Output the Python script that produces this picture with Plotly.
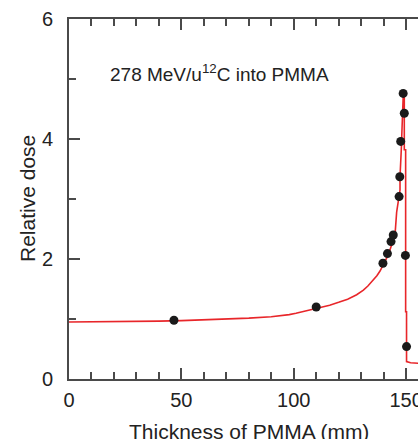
import plotly.graph_objects as go

# Calculated depth-dose curve (step-like near the Bragg peak)
curve_depth_mm = [0, 10, 20, 30, 40, 50, 60, 70, 80, 90, 94, 98, 101, 105, 109,
                  112, 116, 120, 124, 128, 131, 133, 135.4, 137, 138.4, 139.9,
                  141.4, 142.9, 143.8, 145.1, 145.8, 146.6, 147.3, 147.3, 147.5,
                  148.0, 148.0, 148.8, 149.2, 149.2, 149.8, 149.8, 150.2, 150.2,
                  152, 156]
curve_dose = [0.95, 0.952, 0.955, 0.96, 0.965, 0.973, 0.983, 0.997, 1.015, 1.038,
              1.052, 1.073, 1.095, 1.128, 1.163, 1.193, 1.23, 1.278, 1.33, 1.405,
              1.48, 1.55, 1.65, 1.72, 1.80, 1.90, 2.02, 2.16, 2.27, 2.42, 2.78,
              2.96, 3.15, 3.37, 3.48, 3.93, 3.98, 4.79, 4.79, 3.82, 3.82, 1.12,
              1.12, 0.29, 0.27, 0.26]

# Measured points
meas_depth_mm = [46.7, 110, 139.7, 141.7, 143.3, 144.3, 146.9, 147.2, 147.6,
                 148.7, 149.2, 149.7, 150.2]
meas_dose = [0.98, 1.2, 1.93, 2.09, 2.29, 2.4, 3.04, 3.37, 3.96, 4.76, 4.43,
             2.06, 0.54]

x_ticks = [0, 50, 100, 150]
y_ticks = [0, 2, 4, 6]

FONT = "Liberation Sans, Arial, sans-serif"
AXIS_COLOR = "#4a4a4a"
TEXT_COLOR = "#222222"

fig = go.Figure()
fig.add_trace(go.Scatter(
    x=curve_depth_mm, y=curve_dose, mode="lines",
    line=dict(color="#e8262a", width=1.6), hoverinfo="skip"))
fig.add_trace(go.Scatter(
    x=meas_depth_mm, y=meas_dose, mode="markers",
    marker=dict(color="#1a1a1a", size=9)))

fig.update_layout(
    width=418, height=439,
    margin=dict(l=69, r=0, t=19, b=60),
    paper_bgcolor="white", plot_bgcolor="white",
    showlegend=False,
    font=dict(family=FONT, color=TEXT_COLOR),
    xaxis=dict(
        range=[0, 155.3], tickvals=x_ticks, ticks="inside", ticklen=11,
        tickwidth=1.5, tickcolor=AXIS_COLOR, showline=True, linewidth=2,
        linecolor=AXIS_COLOR, mirror="ticks", showgrid=False, zeroline=False,
        tickfont=dict(size=20, color=TEXT_COLOR), ticklabelstandoff=2,
        ticklabeloverflow="allow", automargin=False,
        minor=dict(dtick=10, ticks="inside", ticklen=7, tickwidth=1.5,
                   tickcolor=AXIS_COLOR, showgrid=False),
    ),
    yaxis=dict(
        range=[0, 6], tickvals=y_ticks, ticks="inside", ticklen=11,
        tickwidth=1.5, tickcolor=AXIS_COLOR, showline=True, linewidth=2,
        linecolor=AXIS_COLOR, mirror=False, showgrid=False, zeroline=False,
        tickfont=dict(size=20, color=TEXT_COLOR), ticklabelstandoff=10,
        automargin=False,
        minor=dict(dtick=1, ticks="inside", ticklen=7, tickwidth=1.5,
                   tickcolor=AXIS_COLOR, showgrid=False),
    ),
    annotations=[
        dict(text="278 MeV/u<sup>12</sup>C into PMMA", xref="paper", yref="paper",
             x=(108 - 69) / 349, y=(379 - 73) / 360, xanchor="left",
             yanchor="middle", showarrow=False,
             font=dict(size=19, color=TEXT_COLOR)),
        dict(text="Relative dose", xref="paper", yref="paper",
             x=(27 - 69) / 349, y=0.5, xanchor="center", yanchor="middle",
             textangle=-90, showarrow=False,
             font=dict(size=21, color=TEXT_COLOR)),
        dict(text="Thickness of PMMA (mm)", xref="paper", yref="paper",
             x=(248.5 - 69) / 349, y=(379 - 431) / 360, xanchor="center",
             yanchor="middle", showarrow=False,
             font=dict(size=21, color=TEXT_COLOR)),
    ],
)

fig.write_html("out.html")
